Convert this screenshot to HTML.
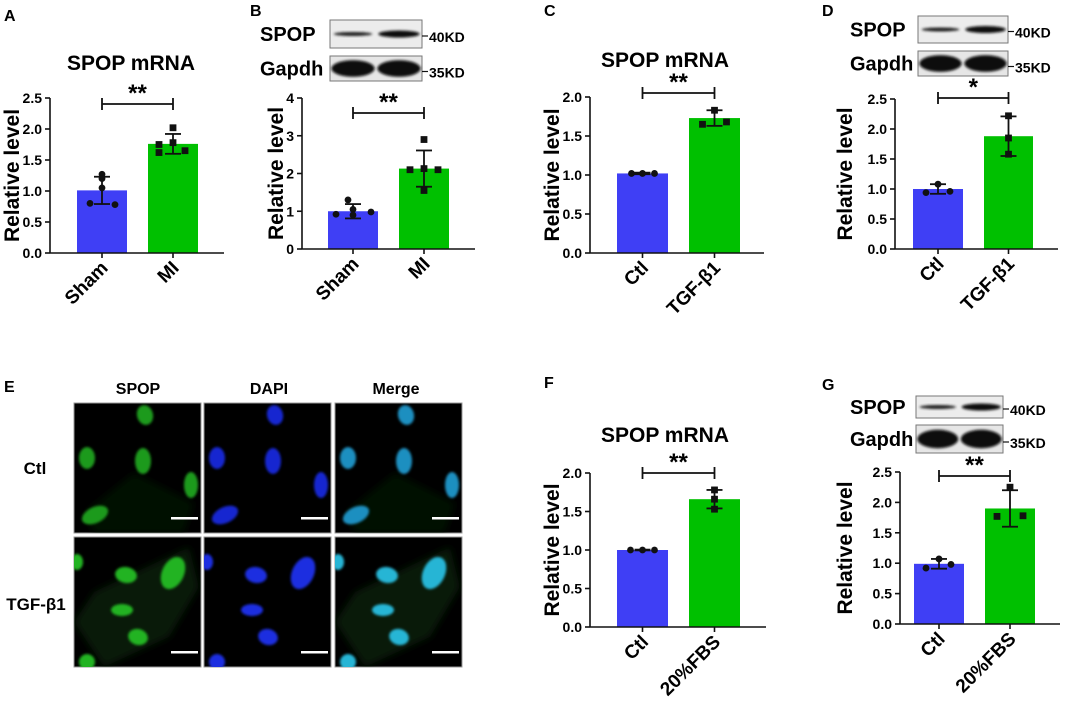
<!DOCTYPE html>
<html><head><meta charset="utf-8"><style>
html,body{margin:0;padding:0;background:#fff;}
svg{display:block;font-family:"Liberation Sans",Arial,sans-serif;font-weight:bold;}
</style></head><body>
<svg id="s" width="1080" height="711" viewBox="0 0 1080 711" xmlns="http://www.w3.org/2000/svg">
<defs>
<filter id="bl" x="-50%" y="-50%" width="200%" height="200%"><feGaussianBlur stdDeviation="1.2"/></filter>
<filter id="bb" x="-50%" y="-50%" width="200%" height="200%"><feGaussianBlur stdDeviation="4"/></filter>
</defs>
</svg>
<script>
var S=document.getElementById('s'),h='';
function T(x,y,t,sz,anc,extra){h+='<text x="'+x+'" y="'+y+'" font-size="'+sz+'" text-anchor="'+(anc||'start')+'" '+(extra||'')+'>'+t+'</text>';}
function L(x1,y1,x2,y2,w){h+='<line x1="'+x1+'" y1="'+y1+'" x2="'+x2+'" y2="'+y2+'" stroke="#111" stroke-width="'+(w||1.6)+'"/>';}
function chart(c){
 var ax=c.ax,yt=c.yt,yb=c.yb,mx=c.max;
 function Y(v){return yb-v/mx*(yb-yt);}
 c.bars.forEach(function(b,i){
  var col=i?'#00c000':'#3f3ff5';
  h+='<rect x="'+b[0]+'" y="'+Y(b[2])+'" width="'+(b[1]-b[0])+'" height="'+(yb-Y(b[2]))+'" fill="'+col+'"/>';
 });
 c.bars.forEach(function(b,i){
  var cx=(b[0]+b[1])/2;
  L(cx,Y(b[2]-b[3]),cx,Y(b[2]+b[3]),1.8);L(cx-8,Y(b[2]+b[3]),cx+8,Y(b[2]+b[3]),1.8);L(cx-8,Y(b[2]-b[3]),cx+8,Y(b[2]-b[3]),1.8);
  b[4].forEach(function(p,k){
   var px=cx+b[5][k];
   if(i==0)h+='<circle cx="'+px+'" cy="'+Y(p)+'" r="3.4" fill="#111"/>';
   else h+='<rect x="'+(px-3.4)+'" y="'+(Y(p)-3.4)+'" width="6.8" height="6.8" fill="#111"/>';
  });
 });
 L(ax,yt,ax,yb);L(ax,yb,c.xe,yb);
 for(var v=0;v<=mx+1e-9;v+=c.step){var yy=Y(v);L(ax-5,yy,ax,yy);T(ax-8,yy+5,v.toFixed(c.dec),14,'end');}
 c.bars.forEach(function(b,i){var cx=(b[0]+b[1])/2;L(cx,yb,cx,yb+5);
  T(cx+7,yb+16,c.cats[i],19,'end','transform="rotate(-45 '+(cx+7)+' '+(yb+16)+')"');});
 T(0,0,'Relative level',21,'middle','transform="translate('+c.yl+' '+((yt+yb)/2)+') rotate(-90)"');
 var c1=(c.bars[0][0]+c.bars[0][1])/2,c2=(c.bars[1][0]+c.bars[1][1])/2;
 L(c1,c.by,c2,c.by,1.8);L(c1,c.by-6,c1,c.by+6,1.8);L(c2,c.by-6,c2,c.by+6,1.8);
 T((c1+c2)/2,c.by-3,c.st,24,'middle');
 if(c.title)T(c.tx,c.ty,'SPOP mRNA',21,'middle');
}
function blot(x0,x1,y1,y2,y3,y4,lx){
 h+='<rect x="'+x0+'" y="'+y1+'" width="'+(x1-x0)+'" height="'+(y2-y1)+'" fill="#ececec" stroke="#777" stroke-width="1"/>';
 h+='<rect x="'+x0+'" y="'+y3+'" width="'+(x1-x0)+'" height="'+(y4-y3)+'" fill="#e6e6e6" stroke="#777" stroke-width="1"/>';
 var w=(x1-x0)/2,m1=(y1+y2)/2,m2=(y3+y4)/2;
 h+='<ellipse cx="'+(x0+w*0.5)+'" cy="'+m1+'" rx="'+(w*0.42)+'" ry="2" fill="#222" filter="url(#bl)"/>';
 h+='<ellipse cx="'+(x0+w*1.5)+'" cy="'+m1+'" rx="'+(w*0.45)+'" ry="3.5" fill="#111" filter="url(#bl)"/>';
 h+='<ellipse cx="'+(x0+w*0.5)+'" cy="'+m2+'" rx="'+(w*0.47)+'" ry="'+((y4-y3)*0.33)+'" fill="#080808" filter="url(#bl)"/>';
 h+='<ellipse cx="'+(x0+w*1.5)+'" cy="'+m2+'" rx="'+(w*0.47)+'" ry="'+((y4-y3)*0.33)+'" fill="#080808" filter="url(#bl)"/>';
 T(lx,m1+7,'SPOP',20,'start');T(lx,m2+7,'Gapdh',20,'start');
 L(x1,m1+2,x1+6,m1+2,1.2);L(x1,m2+3,x1+6,m2+3,1.2);
 T(x1+7,m1+8,'40KD',14);T(x1+7,m2+9,'35KD',14);
}
T(4,21,'A',16);T(250,16,'B',16);T(544,16,'C',16);T(822,16,'D',16);T(4,392,'E',16);T(544,388,'F',16);T(822,390,'G',16);
chart({ax:50,yt:98,yb:253,xe:224,max:2.5,step:0.5,dec:1,yl:19,by:104,st:'**',title:1,tx:131,ty:70,cats:['Sham','MI'],
 bars:[[77,127,1.01,0.22,[1.27,1.2,1.05,0.8,0.78],[0,0,0,-12,13]],[148,198,1.76,0.16,[2.02,1.75,1.78,1.65,1.62],[0,-14,0,12,-14]]]});
chart({ax:302,yt:98,yb:249,xe:475,max:4,step:1,dec:0,yl:283,by:113,st:'**',cats:['Sham','MI'],
 bars:[[328,378,1.0,0.19,[1.3,1.05,0.92,0.9,0.98],[-5,0,-17,0,18]],[399,449,2.13,0.48,[2.9,2.1,2.13,2.1,1.55],[0,-14,0,14,0]]]});
blot(330,422,20,48,56,81,260);
chart({ax:590,yt:97,yb:253,xe:764,max:2,step:0.5,dec:1,yl:559,by:93,st:'**',title:1,tx:665,ty:67,cats:['Ctl','TGF-β1'],
 bars:[[617,668,1.02,0.01,[1.02,1.02,1.02],[0,-11,12]],[689,740,1.73,0.1,[1.83,1.65,1.68],[0,-12,12]]]});
chart({ax:895,yt:99,yb:249,xe:1058,max:2.5,step:0.5,dec:1,yl:852,by:98,st:'*',cats:['Ctl','TGF-β1'],
 bars:[[913,963,1.0,0.08,[1.08,0.94,0.96],[0,-12,12]],[984,1033,1.88,0.33,[2.22,1.85,1.58],[0,0,0]]]});
blot(918,1008,16,43,51,76,850);
chart({ax:590,yt:473,yb:627,xe:766,max:2,step:0.5,dec:1,yl:559,by:473,st:'**',title:1,tx:665,ty:442,cats:['Ctl','20%FBS'],
 bars:[[617,668,1.0,0.005,[1.0,1.0,1.0],[-12,0,12]],[689,740,1.66,0.12,[1.78,1.66,1.53],[0,0,0]]]});
chart({ax:900,yt:472,yb:624,xe:1060,max:2.5,step:0.5,dec:1,yl:852,by:476,st:'**',cats:['Ctl','20%FBS'],
 bars:[[914,964,0.99,0.08,[1.07,0.92,0.98],[0,-13,12]],[985,1035,1.9,0.3,[2.25,1.77,1.78],[0,-13,13]]]});
blot(916,1003,396,418,425,453,850);
// panel E
T(138,394,'SPOP',16,'middle');T(269,394,'DAPI',16,'middle');T(396,394,'Merge',16,'middle');
T(35,474,'Ctl',17,'middle');T(36,610,'TGF-β1',17,'middle');
var cols=[74,204,335],rows=[403,537],W=127,H=130;
var n1=[[71,12,8,10,-15],[13,55,8,11,0],[69,58,8,13,0],[117,82,7,13,0],[21,112,14,8,-25]];
var n2=[[52,38,11,8,10],[99,36,11,17,25],[48,73,11,6,0],[64,100,10,8,15],[3,25,6,8,0],[13,125,8,8,0]];
var colsC=[['#1f9a1f','#22b322'],['#1726d0','#1a2ee0'],['#1f8fc0','#25b5d5']];
rows.forEach(function(ry,ri){cols.forEach(function(cx,ci){
 h+='<rect x="'+cx+'" y="'+ry+'" width="'+W+'" height="'+H+'" fill="#000" stroke="#999" stroke-width="1"/>';
 h+='<svg x="'+cx+'" y="'+ry+'" width="'+W+'" height="'+H+'">';
 if(ci!=1&&ri==1){h+='<path d="M20,55 L115,10 L125,50 L95,100 L30,130 L0,85Z" fill="#0a280a" opacity="0.7" filter="url(#bb)"/>';}
 if(ci!=1&&ri==0){h+='<path d="M10,110 L60,70 L120,100 L110,130 L20,130Z" fill="#041a04" opacity="0.6" filter="url(#bb)"/>';}
 (ri?n2:n1).forEach(function(n){
  h+='<ellipse cx="'+n[0]+'" cy="'+n[1]+'" rx="'+n[2]+'" ry="'+n[3]+'" transform="rotate('+n[4]+' '+n[0]+' '+n[1]+')" fill="'+colsC[ci][ri]+'" filter="url(#bl)"/>';
 });
 h+='<rect x="97" y="114" width="27" height="2.5" fill="#fff"/></svg>';
});});
S.innerHTML+=h;
</script>
</body></html>
